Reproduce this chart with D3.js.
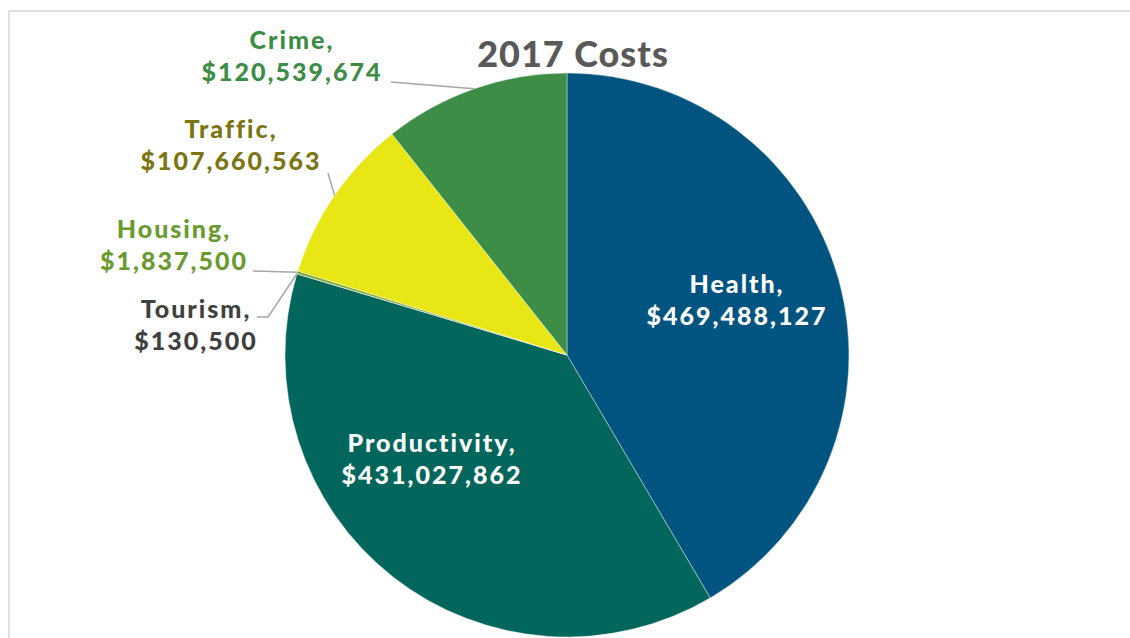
<!DOCTYPE html>
<html>
<head>
<meta charset="utf-8">
<script src="https://cdn.jsdelivr.net/npm/d3@7"></script>
<style>
  html, body { margin: 0; padding: 0; background: #fff; }
  svg { display: block; font-family: Lato, "Open Sans", sans-serif; font-weight: 700; }
</style>
</head>
<body>
<div id="chart"></div>
<script>
// chart data
var categories = ["Health", "Productivity", "Tourism", "Housing", "Traffic", "Crime"]
var costs = [469488127, 431027862, 130500, 1837500, 107660563, 120539674]
var sliceColors = ["#00547f", "#02665c", "#5a5a5a", "#7ea83a", "#e8e614", "#3d8d47"]
var labelColors = ["#ffffff", "#ffffff", "#404040", "#6a9a30", "#7b7512", "#3d8d47"]
var title = "2017 Costs"

// layout: label anchor (center x, first baseline) and leader start points
var labelAt = {
  Health: [737, 293],
  Productivity: [432, 452],
  Tourism: [196, 318],
  Housing: [174, 238],
  Traffic: [231, 138],
  Crime: [292, 49]
}
var leaderFrom = {
  Tourism: [[257, 317], [268, 317]],
  Housing: [[253, 271]],
  Traffic: [[328, 173]],
  Crime: [[391, 82]]
}

var width = 1130, height = 638
var cx = 567, cy = 355, R = 282
var lineGap = 32

var svg = d3.select("#chart").append("svg")
  .attr("width", width)
  .attr("height", height)

// outer frame (only top/left visible in the crop)
svg.append("rect")
  .attr("x", 9)
  .attr("y", 11)
  .attr("width", width + 20)
  .attr("height", height + 20)
  .attr("fill", "none")
  .attr("stroke", "#d9d9d9")
  .attr("stroke-width", 1.6)

var rows = categories.map(function (c, i) {
  return { name: c, value: costs[i], color: sliceColors[i], textColor: labelColors[i] }
})

var pie = d3.pie()
  .sort(null)
  .value(d => d.value)

var arc = d3.arc().innerRadius(0).outerRadius(R)
var edge = d3.arc().innerRadius(R).outerRadius(R)

var g = svg.append("g")
  .attr("transform", `translate(${cx},${cy})`)

var arcs = pie(rows)

g.selectAll("path.slice")
  .data(arcs)
  .join("path")
  .attr("class", "slice")
  .attr("d", arc)
  .attr("fill", d => d.data.color)
  .attr("stroke", "#fff")
  .attr("stroke-width", 0.4)

// leader lines
var line = d3.line()
svg.append("g")
  .attr("fill", "none")
  .attr("stroke", "#a6a6a6")
  .attr("stroke-width", 1.5)
  .selectAll("path")
  .data(arcs.filter(d => leaderFrom[d.data.name]))
  .join("path")
  .attr("d", function (d) {
    var e = edge.centroid(d)
    var pts = leaderFrom[d.data.name].concat([[cx + e[0], cy + e[1]]])
    return line(pts)
  })

var fmt = d3.format("$,")

// labels
var labels = svg.append("g")
  .attr("text-anchor", "middle")
  .attr("font-size", 25)
  .attr("font-weight", 900)
  .attr("letter-spacing", 2)
  .selectAll("text")
  .data(arcs)
  .join("text")
  .attr("fill", d => d.data.textColor)

labels.append("tspan")
  .attr("x", d => labelAt[d.data.name][0])
  .attr("y", d => labelAt[d.data.name][1])
  .text(d => d.data.name + ",")

labels.append("tspan")
  .attr("x", d => labelAt[d.data.name][0])
  .attr("y", d => labelAt[d.data.name][1] + lineGap)
  .text(d => fmt(d.data.value))

svg.append("text")
  .attr("x", 573)
  .attr("y", 67)
  .attr("text-anchor", "middle")
  .attr("font-size", 36)
  .attr("font-weight", 900)
  .attr("letter-spacing", 1)
  .attr("fill", "#595959")
  .text(title)
</script>
</body>
</html>
